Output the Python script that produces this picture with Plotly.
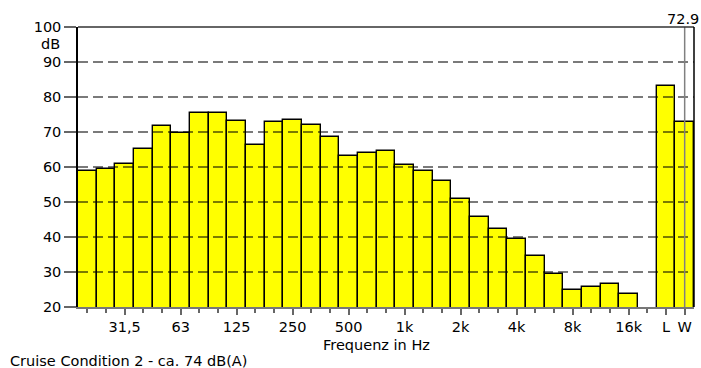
import plotly.graph_objects as go

# Third-octave bands (20 Hz .. 20 kHz) followed by the L and W summary bars
bands = ["20", "25", "31,5", "40", "50", "63", "80", "100", "125", "160",
         "200", "250", "315", "400", "500", "630", "800", "1k", "1,25k", "1,6k",
         "2k", "2,5k", "3,15k", "4k", "5k", "6,3k", "8k", "10k", "12,5k", "16k",
         "20k", "L", "W"]
levels = [58.8, 59.5, 61.0, 65.2, 71.7, 69.7, 75.3, 75.3, 73.2, 66.4,
          72.9, 73.3, 72.1, 68.6, 63.1, 64.1, 64.7, 60.5, 58.9, 56.1,
          50.9, 45.7, 42.2, 39.4, 34.7, 29.5, 24.8, 25.8, 26.7, 23.8,
          None, 83.1, 72.9]
tick_labels = ["31,5", "63", "125", "250", "500", "1k", "2k", "4k", "8k", "16k", "L", "W"]
y_ticks = [20, 30, 40, 50, 60, 70, 80, 90, 100]
grid_levels = [30, 40, 50, 60, 70, 80, 90]
cursor_band = "W"

FONT = "DejaVu Sans, Liberation Sans, sans-serif"
FS = 14.5
x_pos = list(range(len(bands)))
major_pos = [bands.index(t) for t in tick_labels]
minor_pos = [p for p in x_pos if p not in major_pos]
cursor_pos = bands.index(cursor_band)
cursor_val = levels[cursor_pos]

fig = go.Figure()
fig.add_trace(go.Bar(
    x=x_pos, y=levels,
    marker=dict(color="#FFFF00", line=dict(color="#000000", width=1.4)),
    hoverinfo="skip",
))

shapes = []
for g in grid_levels:
    shapes.append(dict(type="line", xref="paper", yref="y", x0=0, x1=1, y0=g, y1=g,
                       line=dict(color="rgba(0,0,0,0.52)", width=2, dash="10px,5px"),
                       layer="above"))
# cursor line
shapes.append(dict(type="line", xref="x", yref="paper", x0=cursor_pos, x1=cursor_pos,
                   y0=0, y1=1, line=dict(color="#808080", width=1.5), layer="above"))
# top and right frame
shapes.append(dict(type="line", xref="paper", yref="paper", x0=0, x1=1, y0=1, y1=1,
                   line=dict(color="#333333", width=1.5), layer="above"))
shapes.append(dict(type="line", xref="paper", yref="paper", x0=1, x1=1, y0=0, y1=1,
                   line=dict(color="#000000", width=1.5), layer="above"))

annotations = [
    dict(text="dB", xref="paper", yref="paper", x=-0.026, y=0.939,
         xanchor="right", yanchor="middle", showarrow=False,
         font=dict(family=FONT, size=FS, color="#000")),
    dict(text=f"{cursor_val}", xref="paper", yref="paper", x=1.0114, y=1.03,
         xanchor="right", yanchor="middle", showarrow=False,
         font=dict(family=FONT, size=FS, color="#000")),
    dict(text="Frequenz in Hz", xref="paper", yref="paper", x=0.484, y=-0.137,
         xanchor="center", yanchor="middle", showarrow=False,
         font=dict(family=FONT, size=FS, color="#000")),
    dict(text="Cruise Condition 2 - ca. 74 dB(A)", xref="paper", yref="paper",
         x=-0.1136, y=-0.193, xanchor="left", yanchor="middle", showarrow=False,
         font=dict(family=FONT, size=FS, color="#000")),
]

fig.update_layout(
    width=701, height=368,
    margin=dict(l=78, r=7, t=27, b=61),
    paper_bgcolor="white", plot_bgcolor="white",
    bargap=0, showlegend=False,
    shapes=shapes, annotations=annotations,
    font=dict(family=FONT, size=FS, color="#000"),
    xaxis=dict(range=[-0.5, len(bands) - 0.5], tickmode="array",
               tickvals=major_pos, ticktext=tick_labels,
               ticks="outside", ticklen=6, tickwidth=1.5, tickcolor="#666",
               minor=dict(tickmode="array", tickvals=minor_pos, ticks="outside",
                          ticklen=4, tickwidth=1.5, tickcolor="#666"),
               showline=True, linecolor="#777", linewidth=1.5,
               showgrid=False, zeroline=False, fixedrange=True,
               tickfont=dict(family=FONT, size=FS, color="#000")),
    yaxis=dict(range=[20, 100], tickmode="array", tickvals=y_ticks,
               ticks="outside", ticklen=12, tickwidth=1.5, tickcolor="#666",
               showline=True, linecolor="#000", linewidth=1.5,
               showgrid=False, zeroline=False, fixedrange=True,
               tickfont=dict(family=FONT, size=FS, color="#000")),
)

fig.write_html("out.html")
